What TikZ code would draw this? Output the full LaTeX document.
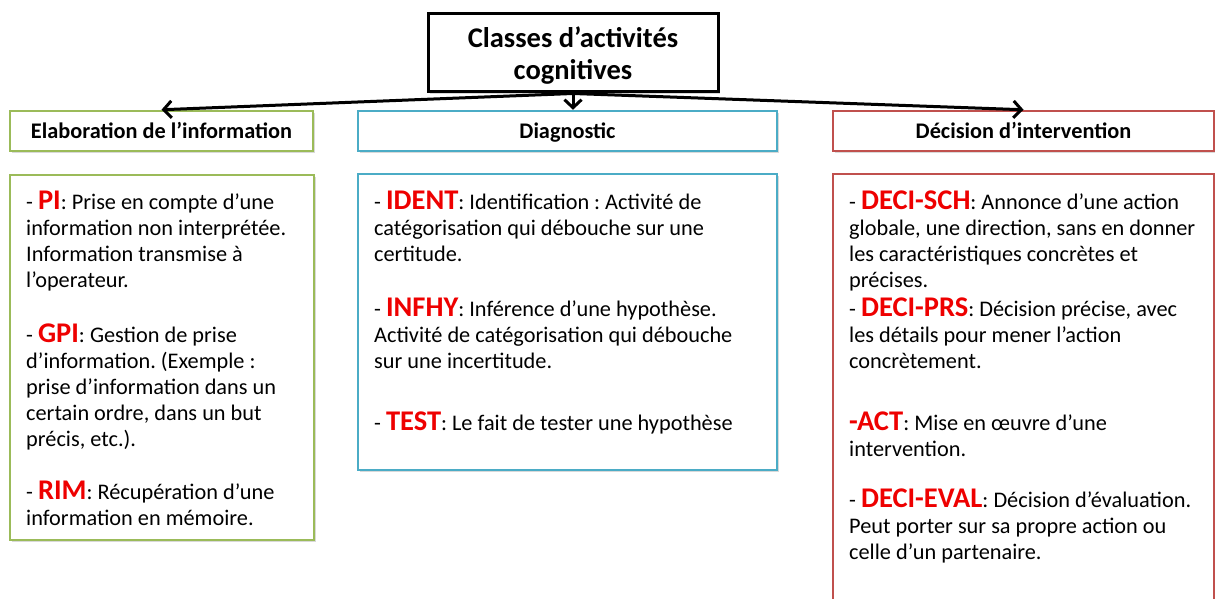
\documentclass[tikz,border=0pt]{standalone}
\usepackage{fontspec}
\setmainfont{Carlito}
\frenchspacing
\usetikzlibrary{arrows.meta,shadows}
\definecolor{grn}{HTML}{9BBB59}
\definecolor{blu}{HTML}{4BACC6}
\definecolor{rd}{HTML}{C0504D}
\definecolor{lab}{HTML}{EE0000}
\tikzset{
  box/.style={draw, line width=2.5pt, fill=white, inner sep=0pt,
    drop shadow={opacity=0.3, shadow xshift=2pt, shadow yshift=-2pt}},
  hdr/.style={font=\bfseries\fontsize{22.3}{24}\selectfont, text height=17pt, text depth=1pt},
  para/.style={anchor=north west, inner sep=0pt, align=left,
    font=\fontsize{22.3}{26}\selectfont},
  conn/.style={line width=3pt, -{Straight Barb[length=8pt,width=17pt]}},
}
\newcommand{\lbl}[1]{\textcolor{lab}{\fontsize{28.5}{26}\selectfont\bfseries #1}}
\begin{document}
\begin{tikzpicture}[x=1pt,y=-1pt]
\useasboundingbox (0,0) rectangle (1215,599);
\clip (0,0) rectangle (1215,599);
% title
\node[box, draw=black, line width=3pt, minimum width=290pt, minimum height=78pt] (title) at (573,53) {};
\node[inner sep=0pt, align=center, font=\bfseries\fontsize{28.5}{32}\selectfont] (titletxt) at (573,56)
  {Classes d’activités\\cognitives};
% headers
\node[box, draw=grn, hdr, minimum width=303pt, minimum height=40pt] (h1) at (161.5,131)
  {Elaboration de l’information};
\node[box, draw=blu, hdr, minimum width=419pt, minimum height=40pt] (h2) at (567.5,131)
  {Diagnostic};
\node[box, draw=rd, hdr, minimum width=381pt, minimum height=40pt] (h3) at (1023.5,131)
  {Décision d’intervention};
% content boxes
\node[box, draw=grn, minimum width=304pt, minimum height=365pt] (c1) at (162,357.5) {};
\node[box, draw=blu, minimum width=419pt, minimum height=296pt] (c2) at (567.5,322) {};
\node[box, draw=rd, minimum width=381pt, minimum height=446pt] (c3) at (1023.5,397) {};
% left texts
\node[para] (pi) at (26,190.8) {\strut- \lbl{PI}: Prise en compte d’une\\information non interprétée.\\Information transmise à\\l’operateur.};
\node[para] (gpi) at (26,323.8) {\strut- \lbl{GPI}: Gestion de prise\\d’information. (Exemple :\\prise d’information dans un\\certain ordre, dans un but\\précis, etc.).};
\node[para] (rim) at (26,480.8) {\strut- \lbl{RIM}: Récupération d’une\\information en mémoire.};
% middle texts
\node[para] (ident) at (374,190.8) {\strut- \lbl{IDENT}: Identification : Activité de\\catégorisation qui débouche sur une\\certitude.};
\node[para] (infhy) at (374,297.8) {\strut- \lbl{INFHY}: Inférence d’une hypothèse.\\Activité de catégorisation qui débouche\\sur une incertitude.};
\node[para] (test) at (374,411.8) {\strut- \lbl{TEST}: Le fait de tester une hypothèse};
% right texts
\node[para] (sch) at (849,190.8) {\strut- \lbl{DECI-SCH}: Annonce d’une action\\globale, une direction, sans en donner\\les caractéristiques concrètes et\\précises.};
\node[para] (prs) at (849,297.8) {\strut- \lbl{DECI-PRS}: Décision précise, avec\\les détails pour mener l’action\\concrètement.};
\node[para] (act) at (849,411.8) {\strut\lbl{-ACT}: Mise en œuvre d’une\\intervention.};
\node[para] (eval) at (849,488.8) {\strut- \lbl{DECI-EVAL}: Décision d’évaluation.\\Peut porter sur sa propre action ou\\celle d’un partenaire.};
% connectors
\draw[conn] (title.south) -- (h1.north);
\draw[conn] (title.south) -- (h3.north);
\draw[conn] (title.south) -- (title.south |- h2.north);
\end{tikzpicture}
\end{document}
